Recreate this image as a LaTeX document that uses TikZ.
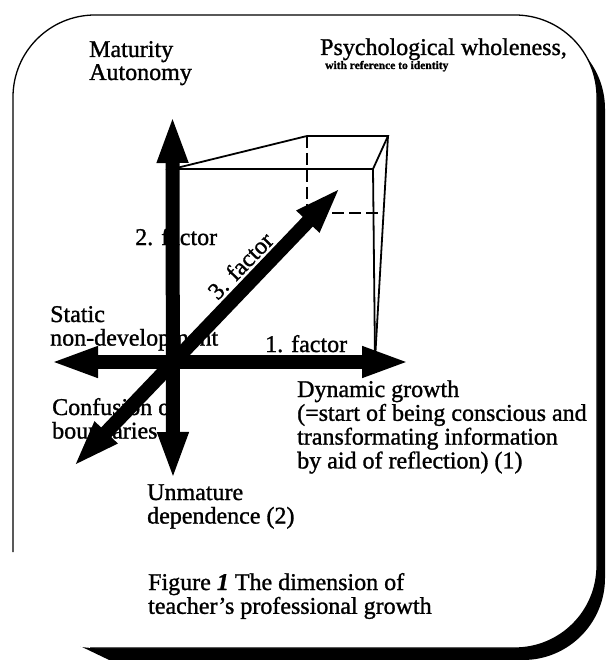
\documentclass[tikz,border=0pt]{standalone}
\usepackage{fontspec}
\setmainfont{Liberation Serif}[FakeBold=1.2]
\usetikzlibrary{arrows.meta}
\newcommand\lns[1]{\begin{tabular}[t]{@{}l@{}}#1\end{tabular}}
\begin{document}
\begin{tikzpicture}[x=1pt,y=-1pt,
  txt/.style={font=\fontsize{24}{23}\selectfont, inner sep=0pt, anchor=base west},
  axis/.style={line width=14pt, {Triangle[length=48pt,width=28pt]}-{Triangle[length=48pt,width=28pt]}},
  edgeline/.style={line width=1.8pt},
  hiddenline/.style={line width=1.8pt, dash pattern=on 12pt off 5pt},
  frameline/.style={line width=1.3pt},
]
\useasboundingbox (0,0) rectangle (605,660);
% frame with heavy shadow
\begin{scope}
  \clip (0,0) -- (620,0) -- (620,670) -- (130,670) -- (80,646) -- (80,580) -- (0,580) -- cycle;
  \fill[black, rounded corners=82pt] (15,27) rectangle (605,660);
\end{scope}
\fill[white, rounded corners=82pt] (13,15) rectangle (597,648);
\draw[frameline, rounded corners=82pt] (13,552) -- (13,15) -- (597,15) -- (597,648) -- (90,648);

% cube
\coordinate (ftl) at (172.5,169);
\coordinate (ftr) at (373,169);
\coordinate (btl) at (307,136);
\coordinate (btr) at (388,136);
\coordinate (fbr) at (375,360);
\coordinate (dm) at (307,213);
\coordinate (dr) at (384,213);
\draw[edgeline] (ftl) -- (ftr) -- (btr) -- (btl) -- cycle;
\draw[edgeline] (ftr) -- (fbr);
\draw[edgeline] (btr) -- (fbr);
\draw[hiddenline] (btl) -- (dm) -- (dr);

% axes
\coordinate (up) at (172.5,115);
\coordinate (down) at (173,480);
\coordinate (left) at (50,362);
\coordinate (right) at (410,362);
\coordinate (dl) at (73,467);
\coordinate (ur) at (341,187);
\draw[axis] (left) -- (right);
\draw[axis] (down) -- (up);
\draw[axis] (dl) -- (ur);

% texts
\node[txt] (mat) at (89,57) {\lns{Maturity\\Autonomy}};
\node[txt] (psy) at (320,55) {Psychological wholeness,};
\node[txt, font=\fontsize{11.5}{12}\selectfont\bfseries] (ref) at (325,69) {with reference to identity};
\node[txt] (f2) at (135,245) {2. factor};
\node[txt, rotate=46, anchor=base] (f3) at (246.3,271.4) {3. factor};
\node[txt] (stat) at (50,322) {\lns{Static\\non-development}};
\node[txt] (f1) at (265,352) {1. factor};
\node[txt] (conf) at (52,415) {\lns{Confusion of\\boundaries}};
\node[txt] (dyn) at (297,397) {\lns{Dynamic growth\\(=start of being conscious and\\transformating information\\by aid of reflection) (1)}};
\node[txt] (unm) at (147,500) {\lns{Unmature\\dependence (2)}};
\node[txt] (fig) at (148,590) {\lns{Figure \textbf{\textit{1}} The dimension of\\teacher's professional growth}};
\end{tikzpicture}
\end{document}
